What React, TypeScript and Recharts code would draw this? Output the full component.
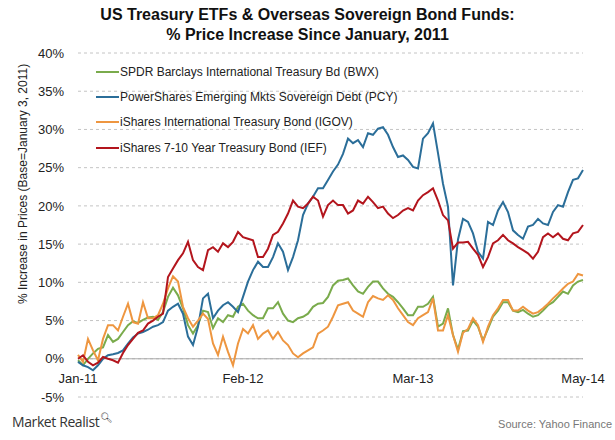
import { LineChart, Line, XAxis, YAxis, CartesianGrid, ReferenceLine, Label } from 'recharts';

// x positions are sample points (roughly every 12 days from Jan 3, 2011 to May 2014)
const tickLabels = ['Jan-11', 'Feb-12', 'Mar-13', 'May-14'];
const tickIdx = [0, 33, 67, 101];
const yTicks = [-5, 0, 5, 10, 15, 20, 25, 30, 35, 40];

// SPDR Barclays International Treasury Bd (BWX)
const bwx = [
  -0.2, -0.85, 0, 0.7, 1.3, 1.5, 3.1, 2.2, 2.6, 3.5,
  4.4, 4.9, 4.7, 5.1, 5.4, 5.5, 5.1, 6.1, 8.1, 9.3,
  8.3, 6.6, 4.4, 3.3, 4.4, 6.3, 6.1, 4.0, 5.3, 4.8,
  5.7, 5.5, 6.8, 7.2, 6.3, 5.7, 5.3, 5.3, 6.6, 6.6,
  7.4, 5.9, 5.0, 4.8, 5.3, 5.5, 5.9, 6.8, 7.2, 7.3,
  8.1, 9.6, 10.2, 10.3, 10.5, 9.6, 8.8, 8.5, 9.4, 10.1,
  10.1, 9.2, 8.5, 8.1, 7.4, 6.6, 5.7, 5.7, 6.8, 6.8,
  7.2, 8.1, 4.2, 4.6, 6.6, 3.1, 1.2, 3.6, 3.7, 5.0,
  4.2, 2.4, 3.9, 5.5, 6.3, 7.4, 7.4, 6.3, 6.1, 6.4,
  5.9, 5.5, 5.7, 6.3, 7.0, 7.4, 8.1, 8.8, 8.5, 9.6,
  10.1, 10.3,
];

// PowerShares Emerging Mkts Sovereign Debt (PCY)
const pcy = [
  -0.4, -0.85, -1.1, -1.5, -0.85, 0, 0.46, 0.6, 0.76, 1.1,
  2.0, 2.8, 3.3, 3.5, 3.8, 4.2, 4.4, 4.8, 6.3, 6.8,
  7.2, 5.9, 2.9, 1.8, 4.2, 7.9, 8.5, 5.3, 6.3, 7.0,
  7.4, 6.8, 6.1, 8.1, 10.1, 11.6, 12.7, 12.0, 12.0, 13.3,
  15.1, 14.0, 11.6, 13.3, 15.5, 18.8, 20.3, 21.2, 22.3, 22.3,
  23.4, 24.5, 25.4, 26.8, 28.8, 28.2, 28.6, 27.7, 29.5, 29.3,
  30.1, 30.3, 29.3, 27.7, 26.4, 26.6, 26.0, 25.1, 24.9, 28.8,
  29.5, 30.8, 26.9, 22.9, 19.9, 9.6, 15.6, 18.3, 17.9, 16.4,
  14.0, 13.1, 17.9, 17.5, 19.4, 20.5, 19.2, 16.8, 16.2, 15.7,
  17.3, 17.5, 18.3, 17.7, 17.5, 19.2, 20.1, 19.9, 21.8, 23.4,
  23.6, 24.7,
];

// iShares International Treasury Bond (IGOV)
const igov = [
  0.5, -0.4, 2.6, 1.1, -0.2, 2.6, 4.4, 4.4, 3.7, 5.5,
  7.2, 4.8, 4.6, 7.4, 5.3, 5.3, 5.7, 7.2, 9.2, 10.8,
  10.1, 6.8, 5.3, 4.2, 5.0, 5.9, 5.2, 2.0, 0.5, 2.9,
  0.9, -0.85, 2.0, 3.9, 3.3, 4.4, 2.6, 3.3, 3.7, 2.6,
  3.5, 2.4, 1.8, 0.7, 0.2, 0.7, 1.1, 1.5, 3.3, 3.7,
  4.2, 5.5, 7.0, 7.2, 7.4, 6.3, 5.9, 5.5, 7.4, 8.2,
  7.9, 7.7, 8.3, 7.7, 6.6, 5.7, 4.8, 4.4, 5.3, 5.7,
  6.1, 7.9, 3.7, 3.7, 5.7, 3.1, 0.9, 3.4, 3.9, 5.3,
  4.4, 2.2, 4.2, 5.7, 6.6, 7.7, 7.7, 6.3, 6.3, 6.8,
  6.3, 5.9, 6.1, 6.6, 7.2, 7.9, 8.5, 9.2, 9.8, 10.1,
  11.1, 10.9,
];

// iShares 7-10 Year Treasury Bond (IEF)
const ief = [
  0, 0.46, -0.4, -0.85, -0.5, 0.24, 0, -0.2, -0.5, 0.76,
  1.8, 2.6, 3.4, 3.7, 4.6, 5.0, 5.5, 5.9, 10.7, 11.8,
  12.9, 13.8, 15.3, 12.9, 12.0, 11.6, 14.2, 14.6, 14.0, 15.1,
  14.6, 15.3, 16.6, 15.9, 15.7, 15.5, 13.3, 13.3, 14.4, 16.2,
  16.6, 17.7, 19.0, 20.7, 19.9, 19.7, 20.3, 21.2, 20.7, 18.6,
  20.1, 20.7, 20.1, 20.1, 19.0, 19.4, 20.7, 20.3, 21.2, 20.5,
  19.7, 19.9, 19.0, 18.4, 18.8, 19.4, 19.7, 19.4, 20.7, 21.4,
  21.8, 22.3, 20.7, 18.8, 18.1, 14.4, 15.2, 15.2, 15.3, 14.4,
  13.6, 12.0, 13.3, 15.1, 15.5, 16.2, 15.5, 15.1, 14.6, 14.2,
  13.8, 13.1, 14.0, 15.9, 16.4, 15.9, 16.4, 15.7, 15.5, 16.4,
  16.6, 17.5,
];

const series = [
  { key: 'bwx', name: 'SPDR Barclays International Treasury Bd (BWX)', color: '#7aab4c' },
  { key: 'pcy', name: 'PowerShares Emerging Mkts Sovereign Debt (PCY)', color: '#2b6e99' },
  { key: 'igov', name: 'iShares International Treasury Bond (IGOV)', color: '#ee9640' },
  { key: 'ief', name: 'iShares 7-10 Year Treasury Bond (IEF)', color: '#b3151d' },
];

const data = bwx.map((v, i) => ({ i, bwx: v, pcy: pcy[i], igov: igov[i], ief: ief[i] }));

const font = '"Liberation Sans", Arial, sans-serif';

function XTick({ x, y, payload }) {
  const label = tickLabels[tickIdx.indexOf(payload.value)];
  return (
    <text x={x} y={y} dy={-14} textAnchor="middle" fontSize={13} fill="#222" fontFamily={font}>
      {label}
    </text>
  );
}

export default function App() {
  return (
    <div style={{ position: 'absolute', left: 0, top: 0, width: 615, height: 440, background: '#fff', fontFamily: font }}>
      <div style={{ position: 'absolute', top: 5, left: 0, width: 615, textAlign: 'center', fontWeight: 'bold', fontSize: 16, lineHeight: '20px', color: '#111' }}>
        US Treasury ETFs &amp; Overseas Sovereign Bond Funds:
        <br />% Price Increase Since January, 2011
      </div>

      <LineChart width={615} height={440} data={data} margin={{ top: 53, right: 32, left: 18, bottom: 23 }}>
        <CartesianGrid vertical={false} strokeDasharray="3 3" stroke="#c4c4c4" />
        <XAxis
          dataKey="i"
          type="number"
          domain={[0, 101]}
          ticks={tickIdx}
          tick={<XTick />}
          tickLine={false}
          axisLine={false}
          tickSize={0}
          tickMargin={0}
          height={20}
          interval={0}
        />
        <YAxis
          domain={[-5, 40]}
          ticks={yTicks}
          tickFormatter={(v) => `${v}%`}
          tick={{ fontSize: 13, fill: '#222', fontFamily: font }}
          tickLine={false}
          axisLine={false}
          tickSize={0}
          tickMargin={14}
          width={60}
          interval={0}
        >
          <Label
            content={() => (
              <text
                x={24}
                y={184}
                transform="rotate(-90, 24, 184)"
                textAnchor="middle"
                dominantBaseline="middle"
                fontSize={12}
                fill="#222"
                fontFamily={font}
              >
                % Increase in Prices (Base=January 3, 2011)
              </text>
            )}
          />
        </YAxis>
        <ReferenceLine y={0} stroke="#aaa" strokeWidth={1} />
        {series.map((s) => (
          <Line
            key={s.key}
            type="linear"
            dataKey={s.key}
            name={s.name}
            stroke={s.color}
            strokeWidth={2}
            dot={false}
            isAnimationActive={false}
          />
        ))}
      </LineChart>

      {/* legend sits inside the plot, top-left */}
      <div style={{ position: 'absolute', left: 96, top: 59, fontSize: 12, color: '#222' }}>
        {series.map((s) => (
          <div key={s.key} style={{ display: 'flex', alignItems: 'center', height: 25.3 }}>
            <span style={{ display: 'inline-block', width: 23, height: 2, background: s.color, marginRight: 1 }} />
            <span>{s.name}</span>
          </div>
        ))}
      </div>

      <div style={{ position: 'absolute', left: 12, top: 410, fontFamily: '"Open Sans", "DejaVu Sans", sans-serif', fontSize: 14, color: '#333', letterSpacing: -0.4 }}>
        Market Realist<sup style={{ fontSize: 10, marginLeft: 1 }}>&#x1F50D;&#xFE0E;</sup>
      </div>
      <div style={{ position: 'absolute', right: 3, top: 418, fontSize: 11, color: '#777' }}>Source: Yahoo Finance</div>
    </div>
  );
}
